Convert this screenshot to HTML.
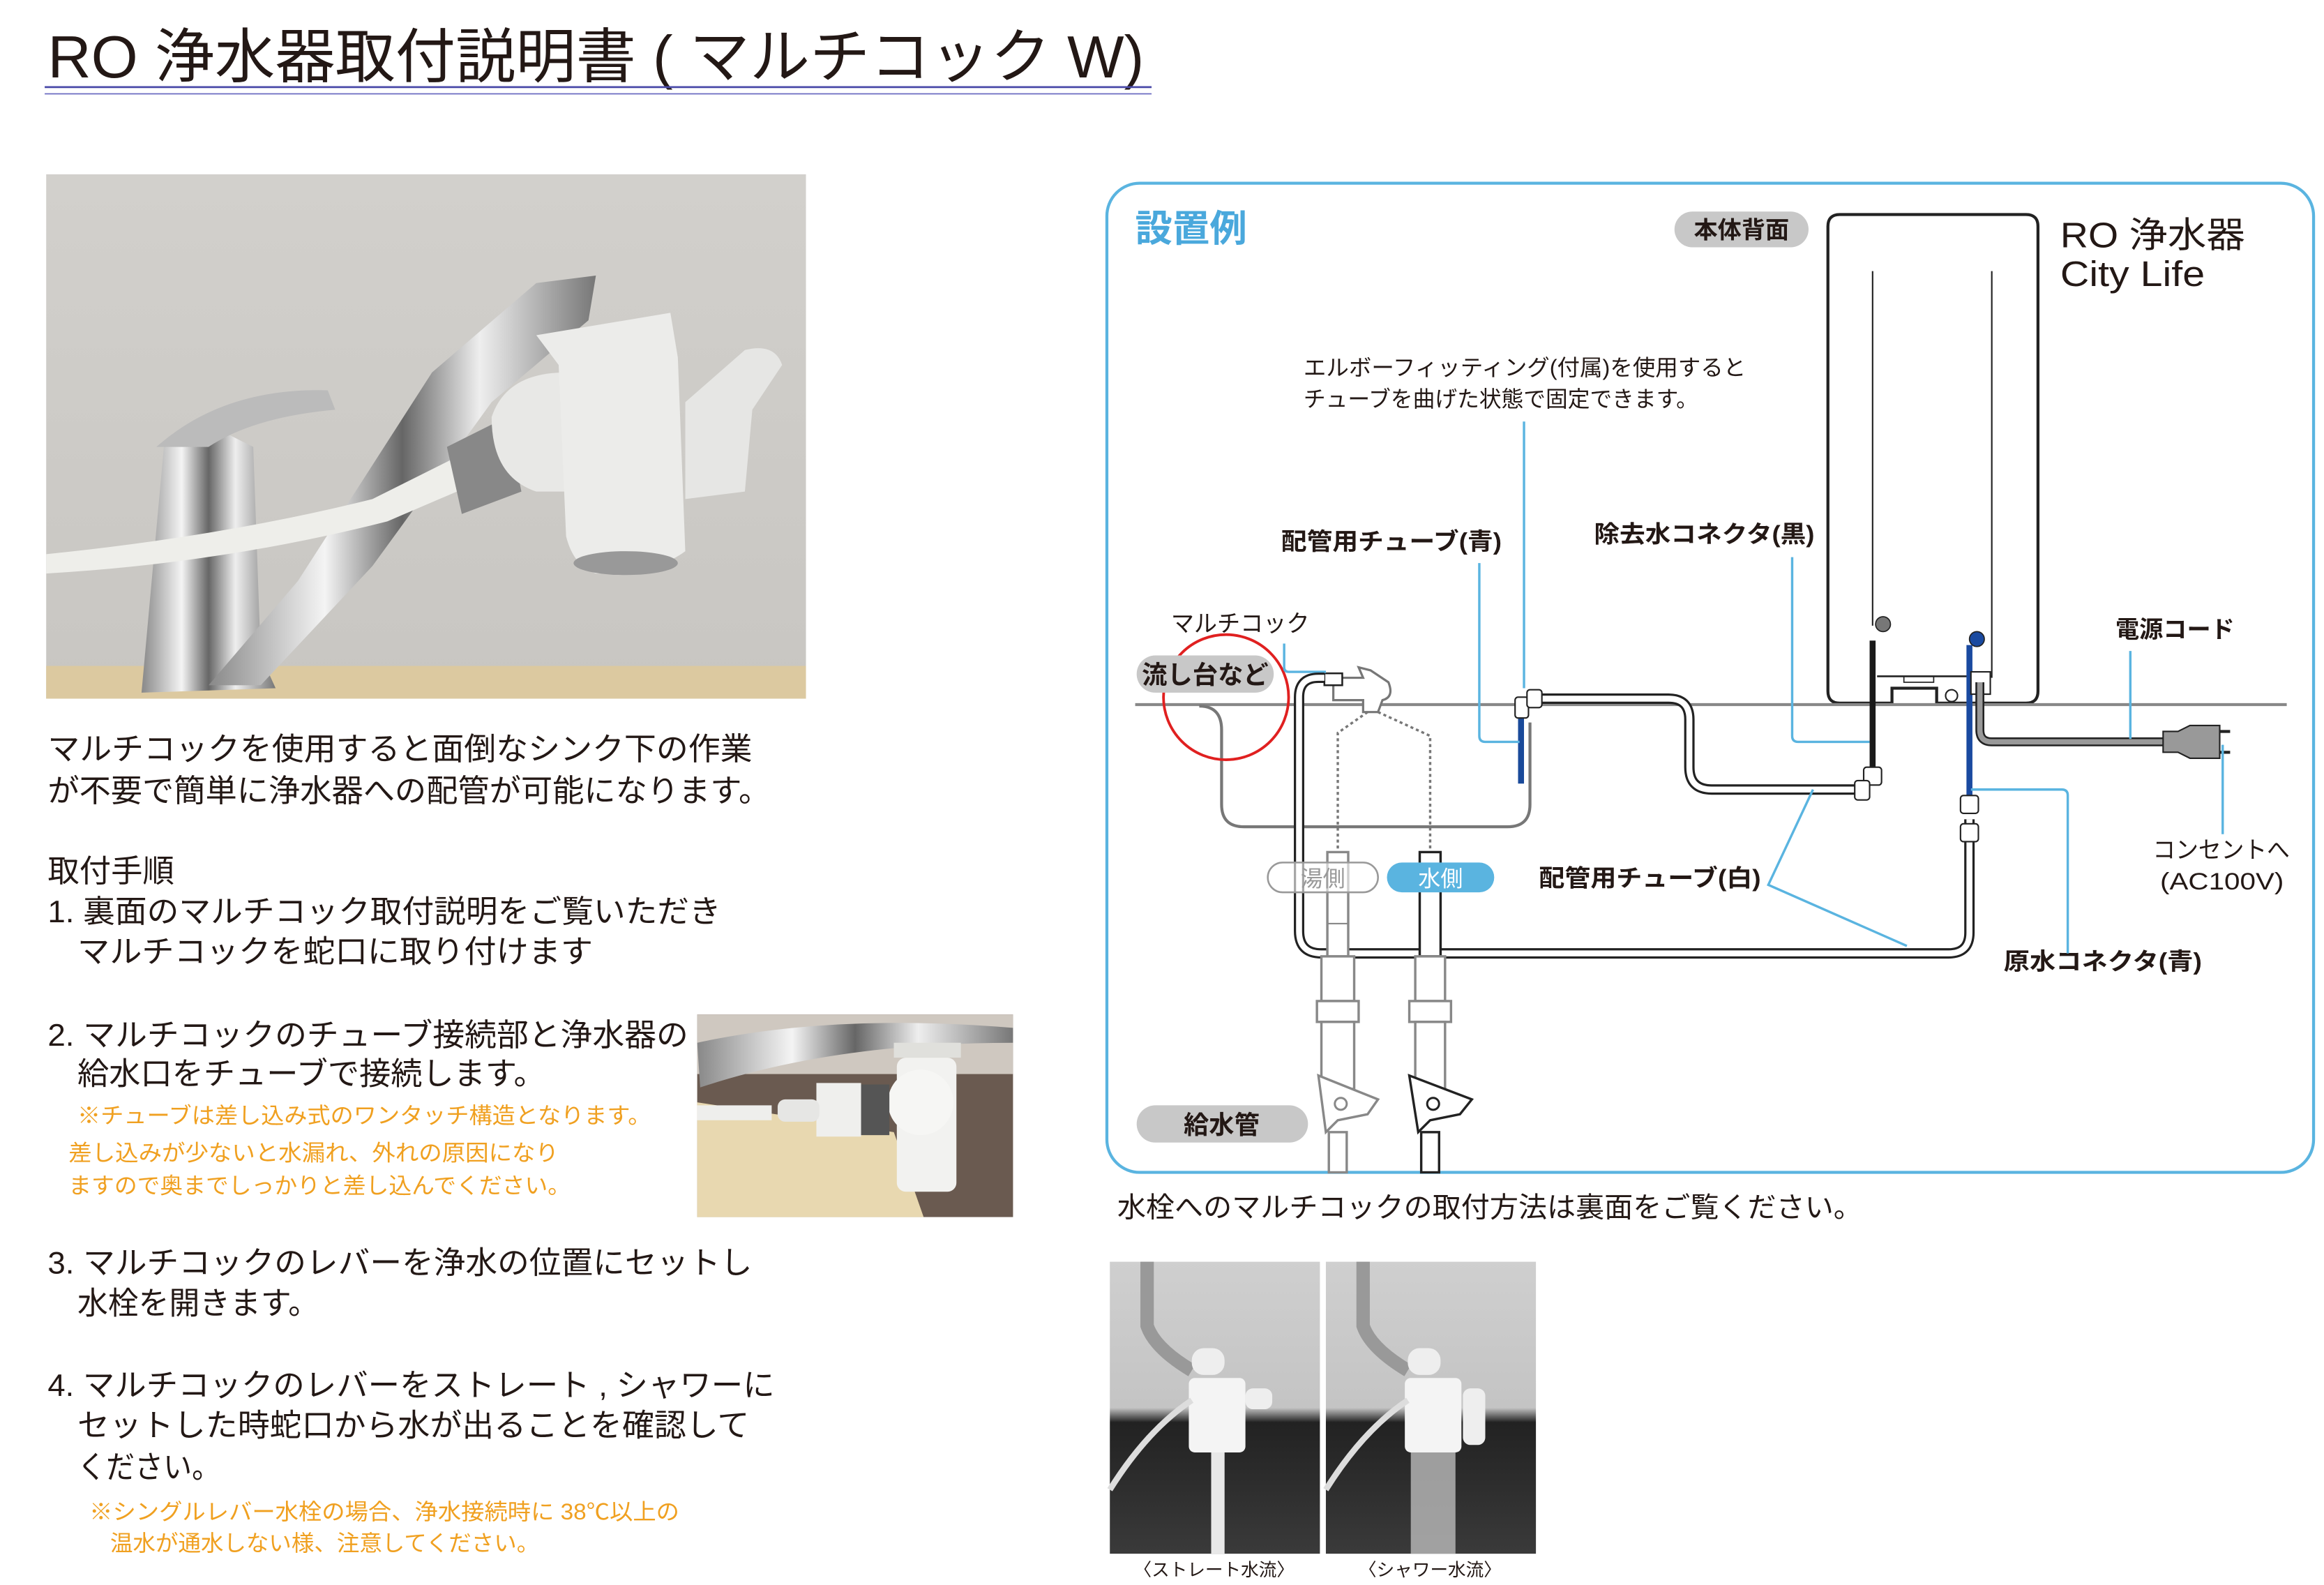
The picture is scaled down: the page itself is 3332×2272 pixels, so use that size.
<!DOCTYPE html>
<html><head><meta charset="utf-8">
<style>
html,body{margin:0;padding:0;background:#fff;}
svg{display:block;}
text{font-family:"Liberation Sans","Noto Sans CJK JP",sans-serif;}
</style></head>
<body>
<svg width="3332" height="2272" viewBox="0 0 1560 1064" preserveAspectRatio="none" xmlns="http://www.w3.org/2000/svg">
<defs>
<linearGradient id="chrome" x1="0" x2="1">
<stop offset="0" stop-color="#888"/><stop offset=".3" stop-color="#f4f4f4"/><stop offset=".5" stop-color="#666"/><stop offset=".7" stop-color="#eee"/><stop offset="1" stop-color="#777"/></linearGradient>
<linearGradient id="wall" x1="0" y1="0" x2="0" y2="1"><stop offset="0" stop-color="#d2d0cc"/><stop offset="1" stop-color="#c8c6c2"/></linearGradient>
<linearGradient id="sinkg" x1="0" y1="0" x2="0" y2="1"><stop offset="0" stop-color="#cfcfcf"/><stop offset=".5" stop-color="#c4c4c4"/><stop offset=".55" stop-color="#222"/><stop offset="1" stop-color="#3a3a3a"/></linearGradient>
</defs>

<!-- Title -->
<text x="32" y="52" font-size="40" fill="#231815" textLength="736" lengthAdjust="spacingAndGlyphs">RO 浄水器取付説明書 ( マルチコック W)</text>
<line x1="30" y1="58.5" x2="773" y2="58.5" stroke="#4a4aa8" stroke-width="1.3"/>
<line x1="30" y1="63" x2="773" y2="63" stroke="#6a6ac0" stroke-width="0.8"/>

<!-- Photo 1 -->
<rect x="31" y="117" width="510" height="352" fill="url(#wall)"/>
<rect x="31" y="447" width="510" height="22" fill="#dcc9a0"/>
<path d="M95 465 L110 300 L140 285 L170 300 L175 440 L185 462 Z" fill="url(#chrome)"/>
<path d="M105 300 Q150 260 220 262 L225 275 Q170 280 140 300 Z" fill="#bbb"/>
<path d="M140 460 L200 390 L290 250 L360 190 L400 185 L395 215 L330 270 L250 380 L175 460 Z" fill="url(#chrome)"/>
<path d="M31 372 Q150 360 250 335 L320 300 L330 320 L260 350 Q150 378 31 385 Z" fill="#eeeeea"/>
<path d="M300 300 L340 280 L350 330 L310 345 Z" fill="#888"/>
<path d="M330 280 Q340 250 380 250 L400 255 L400 330 L360 330 Q330 320 330 280 Z" fill="#e8e8e6"/>
<path d="M360 225 L450 210 L455 240 L460 370 Q440 385 400 385 Q385 380 380 360 L375 245 Z" fill="#ececea"/>
<path d="M460 270 L500 235 Q520 230 525 245 L505 275 L500 330 L460 335 Z" fill="#e6e6e4"/>
<ellipse cx="420" cy="378" rx="35" ry="8" fill="#999"/>

<!-- Left text -->
<g font-size="21" fill="#231815">
<text x="32" y="510" textLength="473" lengthAdjust="spacingAndGlyphs">マルチコックを使用すると面倒なシンク下の作業</text>
<text x="32" y="538" textLength="485" lengthAdjust="spacingAndGlyphs">が不要で簡単に浄水器への配管が可能になります。</text>
<text x="32" y="592" textLength="85" lengthAdjust="spacingAndGlyphs">取付手順</text>
<text x="32" y="619" textLength="452" lengthAdjust="spacingAndGlyphs">1. 裏面のマルチコック取付説明をご覧いただき</text>
<text x="52" y="646" textLength="346" lengthAdjust="spacingAndGlyphs">マルチコックを蛇口に取り付けます</text>
<text x="32" y="702" textLength="430" lengthAdjust="spacingAndGlyphs">2. マルチコックのチューブ接続部と浄水器の</text>
<text x="52" y="728" textLength="314" lengthAdjust="spacingAndGlyphs">給水口をチューブで接続します。</text>
<text x="32" y="855" textLength="473" lengthAdjust="spacingAndGlyphs">3. マルチコックのレバーを浄水の位置にセットし</text>
<text x="52" y="882" textLength="162" lengthAdjust="spacingAndGlyphs">水栓を開きます。</text>
<text x="32" y="937" textLength="488" lengthAdjust="spacingAndGlyphs">4. マルチコックのレバーをストレート , シャワーに</text>
<text x="52" y="964" textLength="451" lengthAdjust="spacingAndGlyphs">セットした時蛇口から水が出ることを確認して</text>
<text x="52" y="992" textLength="96" lengthAdjust="spacingAndGlyphs">ください。</text>
</g>
<g font-size="15" fill="#f0a020">
<text x="52" y="754" textLength="385" lengthAdjust="spacingAndGlyphs">※チューブは差し込み式のワンタッチ構造となります。</text>
<text x="46" y="779" textLength="329" lengthAdjust="spacingAndGlyphs">差し込みが少ないと水漏れ、外れの原因になり</text>
<text x="46" y="801" textLength="337" lengthAdjust="spacingAndGlyphs">ますので奥までしっかりと差し込んでください。</text>
<text x="60" y="1020" textLength="396" lengthAdjust="spacingAndGlyphs">※シングルレバー水栓の場合、浄水接続時に 38℃以上の</text>
<text x="74" y="1041" textLength="288" lengthAdjust="spacingAndGlyphs">温水が通水しない様、注意してください。</text>
</g>

<!-- Photo 2 -->
<rect x="468" y="681" width="212" height="136" fill="#6a5a50"/>
<rect x="468" y="681" width="212" height="40" fill="#cfc8c0"/>
<path d="M468 740 L600 760 L620 817 L468 817 Z" fill="#e8d8b0"/>
<path d="M468 700 Q560 680 680 690 L680 700 Q560 700 470 730 Z" fill="url(#chrome)"/>
<rect x="600" y="700" width="45" height="10" fill="#e0e0dc"/>
<rect x="602" y="710" width="40" height="90" rx="6" fill="#f2f2f0"/>
<circle cx="618" cy="740" r="22" fill="#f6f6f4"/>
<rect x="575" y="728" width="22" height="34" fill="#555"/>
<rect x="548" y="727" width="30" height="36" fill="#efefed"/>
<rect x="522" y="738" width="28" height="15" rx="5" fill="#e6e6e4"/>
<rect x="468" y="742" width="50" height="10" fill="#eeeeec"/>

<!-- Diagram frame -->
<rect x="743" y="123" width="810" height="664" rx="22" fill="none" stroke="#5ab4e0" stroke-width="2"/>
<text x="762" y="162" font-size="25" font-weight="bold" fill="#4aa8dc" textLength="75" lengthAdjust="spacingAndGlyphs">設置例</text>

<!-- Unit -->
<rect x="1124" y="142" width="90" height="24" rx="12" fill="#c8c8c8"/>
<text x="1169" y="160" font-size="16" font-weight="bold" text-anchor="middle" fill="#231815">本体背面</text>
<path d="M1235 144 H1360 Q1368 144 1368 152 V464 Q1368 472 1360 472 H1300 V462 H1270 V472 H1235 Q1227 472 1227 464 V152 Q1227 144 1235 144 Z" fill="#fff" stroke="#222" stroke-width="2"/>
<line x1="1257" y1="182" x2="1257" y2="420" stroke="#222" stroke-width="1"/>
<line x1="1337" y1="182" x2="1337" y2="455" stroke="#222" stroke-width="1"/>
<line x1="1260" y1="454" x2="1337" y2="454" stroke="#222" stroke-width="1.2"/>
<rect x="1278" y="454" width="20" height="4" fill="none" stroke="#222" stroke-width="0.8"/>
<circle cx="1310" cy="467" r="4" fill="#fff" stroke="#222"/>
<circle cx="1264" cy="419" r="5" fill="#777" stroke="#222" stroke-width="0.8"/>
<circle cx="1327" cy="429" r="5" fill="#1a4aa0" stroke="#222" stroke-width="0.8"/>
<text x="1383" y="166" font-size="24" fill="#231815" textLength="124" lengthAdjust="spacingAndGlyphs">RO 浄水器</text>
<text x="1383" y="192" font-size="24" fill="#231815" textLength="97" lengthAdjust="spacingAndGlyphs">City Life</text>

<!-- counter line -->
<line x1="762" y1="473" x2="1535" y2="473" stroke="#888" stroke-width="2"/>

<!-- sink -->
<path d="M805 474 Q820 474 820 490 V540 Q820 555 835 555 H1012 Q1027 555 1027 540 V485" fill="none" stroke="#777" stroke-width="2"/>
<circle cx="823" cy="468" r="42" fill="none" stroke="#e02020" stroke-width="1.8"/>
<rect x="763" y="440" width="92" height="25" rx="12.5" fill="#c8c8c8"/>
<text x="809" y="459" font-size="17" font-weight="bold" text-anchor="middle" fill="#231815">流し台など</text>

<!-- multicock -->
<path d="M895 455 H915 L912 448 L920 450 L932 458 Q936 468 928 470 L925 478 H915 V470 H895 Z" fill="#fff" stroke="#777" stroke-width="1.5"/>
<rect x="889" y="452" width="12" height="8" fill="#fff" stroke="#222" stroke-width="1.2"/>
<text x="786" y="424" font-size="16" fill="#231815" textLength="93" lengthAdjust="spacingAndGlyphs">マルチコック</text>
<path d="M862 432 V448 Q862 451 865 451 H890" fill="none" stroke="#5ab4e0" stroke-width="1.6"/>

<!-- white tube from faucet -->
<path d="M889 455 H885 Q872 455 872 468 V625 Q872 640 887 640 H1308 Q1322 640 1322 626 V550" fill="none" stroke="#222" stroke-width="7"/>
<path d="M889 455 H885 Q872 455 872 468 V625 Q872 640 887 640 H1308 Q1322 640 1322 626 V550" fill="none" stroke="#fff" stroke-width="4"/>

<!-- dotted -->
<path d="M918 478 L898 492 V580 M925 478 L960 494 V580" fill="none" stroke="#777" stroke-width="1.6" stroke-dasharray="2,2"/>

<!-- supply pipes -->
<g fill="#fff" stroke="#888" stroke-width="1.6">
<rect x="891" y="572" width="14" height="70"/>
<rect x="887" y="642" width="22" height="30"/>
<rect x="884" y="672" width="28" height="14"/>
<rect x="887" y="686" width="22" height="45"/>
<path d="M885 722 L925 738 L918 748 L898 752 L890 760 Z"/>
<rect x="892" y="760" width="12" height="27"/>
<rect x="953" y="572" width="14" height="70" stroke="#222"/>
<rect x="950" y="642" width="20" height="30"/>
<rect x="946" y="672" width="28" height="14"/>
<rect x="950" y="686" width="20" height="45"/>
<path d="M946 722 L988 738 L980 748 L960 752 L952 760 Z" stroke="#222"/>
<rect x="954" y="760" width="12" height="27" stroke="#222"/>
</g>
<circle cx="900" cy="741" r="4" fill="none" stroke="#888" stroke-width="1.4"/>
<circle cx="962" cy="741" r="4" fill="none" stroke="#222" stroke-width="1.4"/>
<line x1="891" y1="620" x2="905" y2="620" stroke="#888"/>

<rect x="851" y="579" width="74" height="20" rx="10" fill="#fff" fill-opacity="0.6" stroke="#999" stroke-width="1.2"/>
<text x="888" y="595" font-size="15" text-anchor="middle" fill="#999">湯側</text>
<rect x="931" y="579" width="72" height="20" rx="10" fill="#5ab4e0"/>
<text x="967" y="595" font-size="15" text-anchor="middle" fill="#fff">水側</text>
<rect x="763" y="742" width="115" height="25" rx="12.5" fill="#c8c8c8"/>
<text x="820" y="761" font-size="17" font-weight="bold" text-anchor="middle" fill="#231815">給水管</text>

<!-- elbow tube -->
<path d="M1030 469 H1120 Q1134 469 1134 483 V515 Q1134 530 1149 530 H1250" fill="none" stroke="#222" stroke-width="7"/>
<path d="M1030 469 H1120 Q1134 469 1134 483 V515 Q1134 530 1149 530 H1250" fill="none" stroke="#fff" stroke-width="4"/>
<line x1="1021" y1="480" x2="1021" y2="526" stroke="#1a4a9a" stroke-width="4"/>
<rect x="1017" y="468" width="9" height="14" rx="2" fill="#fff" stroke="#222"/>
<rect x="1025" y="463" width="10" height="12" rx="2" fill="#fff" stroke="#222"/>
<line x1="1257" y1="430" x2="1257" y2="520" stroke="#1a1a1a" stroke-width="4"/>
<rect x="1251" y="515" width="12" height="12" rx="2" fill="#fff" stroke="#222"/>
<rect x="1245" y="524" width="10" height="13" rx="2" fill="#fff" stroke="#222"/>
<line x1="1322" y1="433" x2="1322" y2="535" stroke="#1a4aa0" stroke-width="4"/>
<rect x="1316" y="534" width="12" height="12" rx="2" fill="#fff" stroke="#222"/>
<rect x="1316" y="553" width="12" height="12" rx="2" fill="#fff" stroke="#222"/>

<!-- power cord -->
<rect x="1323" y="451" width="13" height="15" fill="#fff" stroke="#222"/>
<path d="M1329 458 V490 Q1329 498 1337 498 H1455" fill="none" stroke="#222" stroke-width="6"/>
<path d="M1329 458 V490 Q1329 498 1337 498 H1455" fill="none" stroke="#999" stroke-width="3.6"/>
<path d="M1452 491 H1462 L1470 487 H1490 V509 H1470 L1462 505 H1452 Z" fill="#999" stroke="#222"/>
<path d="M1490 491 H1497 M1490 505 H1497" stroke="#222" stroke-width="2"/>

<!-- labels & leaders -->
<g fill="#231815">
<text x="875" y="252" font-size="15" textLength="297" lengthAdjust="spacingAndGlyphs">エルボーフィッティング(付属)を使用すると</text>
<text x="875" y="273" font-size="15" textLength="265" lengthAdjust="spacingAndGlyphs">チューブを曲げた状態で固定できます。</text>
<text x="860" y="369" font-size="16" font-weight="bold" textLength="148" lengthAdjust="spacingAndGlyphs">配管用チューブ(青)</text>
<text x="1070" y="364" font-size="16" font-weight="bold" textLength="148" lengthAdjust="spacingAndGlyphs">除去水コネクタ(黒)</text>
<text x="1420" y="428" font-size="16" font-weight="bold" textLength="80" lengthAdjust="spacingAndGlyphs">電源コード</text>
<text x="1445" y="576" font-size="16" textLength="92" lengthAdjust="spacingAndGlyphs">コンセントへ</text>
<text x="1450" y="597" font-size="16" textLength="83" lengthAdjust="spacingAndGlyphs">(AC100V)</text>
<text x="1033" y="595" font-size="16" font-weight="bold" textLength="149" lengthAdjust="spacingAndGlyphs">配管用チューブ(白)</text>
<text x="1345" y="651" font-size="16" font-weight="bold" textLength="133" lengthAdjust="spacingAndGlyphs">原水コネクタ(青)</text>
</g>
<g fill="none" stroke="#5ab4e0" stroke-width="1.6">
<path d="M1023 283 V462"/>
<path d="M993 378 V494 Q993 498 997 498 H1020"/>
<path d="M1203 374 V494 Q1203 498 1207 498 H1255"/>
<path d="M1430 437 V496"/>
<path d="M1492 500 V560"/>
<path d="M1217 530 L1187 594 L1280 635"/>
<path d="M1388 640 V534 Q1388 530 1384 530 H1323"/>
</g>

<text x="750" y="817" font-size="19" fill="#231815" textLength="500" lengthAdjust="spacingAndGlyphs">水栓へのマルチコックの取付方法は裏面をご覧ください。</text>

<!-- bottom photos -->
<g>
<rect x="745" y="847" width="141" height="196" fill="url(#sinkg)"/>
<path d="M770 847 V890 Q775 905 800 920" fill="none" stroke="#999" stroke-width="9"/>
<rect x="800" y="905" width="22" height="18" rx="8" fill="#eee"/>
<rect x="798" y="925" width="38" height="50" rx="4" fill="#f4f4f4"/>
<rect x="836" y="932" width="18" height="14" rx="5" fill="#eee"/>
<path d="M745 1000 Q770 960 800 940" fill="none" stroke="#ddd" stroke-width="4"/>
<rect x="813" y="975" width="9" height="68" fill="#e8e8e8"/>
<rect x="890" y="847" width="141" height="196" fill="url(#sinkg)"/>
<path d="M915 847 V890 Q920 905 945 920" fill="none" stroke="#999" stroke-width="9"/>
<rect x="945" y="905" width="22" height="18" rx="8" fill="#eee"/>
<rect x="943" y="925" width="38" height="50" rx="4" fill="#f4f4f4"/>
<rect x="982" y="932" width="15" height="38" rx="5" fill="#eee"/>
<path d="M890 1000 Q915 960 945 940" fill="none" stroke="#ddd" stroke-width="4"/>
<rect x="947" y="975" width="30" height="68" fill="#bbb" opacity="0.8"/>
<text x="815" y="1058" font-size="12" text-anchor="middle" fill="#231815">〈ストレート水流〉</text>
<text x="960" y="1058" font-size="12" text-anchor="middle" fill="#231815">〈シャワー水流〉</text>
</g>
</svg>
</body></html>
